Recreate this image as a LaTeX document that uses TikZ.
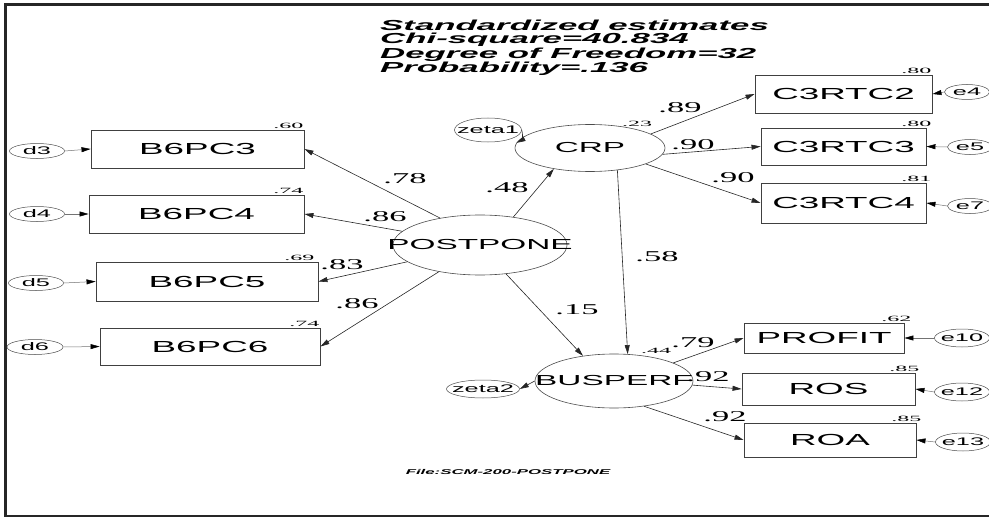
\documentclass[tikz,border=0pt]{standalone}
\usepackage{fontspec}
\setmainfont{Liberation Sans}
\newfontfamily\boxfont[FakeStretch=2.3]{Liberation Sans}
\newfontfamily\coeffont[FakeStretch=2.3]{Liberation Serif}
\newfontfamily\rsqfont[FakeStretch=3]{Liberation Serif}
\newfontfamily\headfont[FakeStretch=2.4]{Liberation Sans}
\usetikzlibrary{arrows.meta}
\usetikzlibrary{shapes.geometric}
\newcommand{\nowidth}[1]{\makebox[0pt]{#1}}

\begin{document}
\begin{tikzpicture}[x=1pt,y=-1pt,
    >={Triangle[length=9pt,width=5pt]},
    obs/.style={draw=black!75, line width=0.9pt, inner sep=0pt, font=\boxfont\fontsize{16}{18}\selectfont},
    lat/.style={ellipse, draw=black!70, line width=0.6pt, inner sep=0pt, font=\boxfont\fontsize{14.5}{16}\selectfont},
    err/.style={ellipse, draw=black!70, line width=0.5pt, inner sep=0pt, font=\boxfont\fontsize{11}{12}\selectfont},
    link/.style={->, black!85, line width=0.6pt},
    errlink/.style={-{Triangle[length=9pt,width=5pt,color=black]}, black!55, line width=0.5pt},
    coef/.style={font=\coeffont\fontsize{15}{16}\selectfont, inner sep=0pt},
    rsq/.style={font=\rsqfont\fontsize{8}{9}\selectfont, inner sep=1pt, anchor=south east},
  ]
		\useasboundingbox (0,0) rectangle (989,519);
		\draw[line width=2.5pt, black!85] (1000,4.5) -- (5.5,4.5) -- (5.5,516) -- (1000,516);

		\node[anchor=north west, align=left, inner sep=0pt, font=\headfont\bfseries\itshape\fontsize{14.5}{12.8}\selectfont] (head) at (380,20)
			{Standardized estimates\\Chi-square=40.834\\Degree of Freedom=32\\Probability=.136};
		\node[font=\headfont\bfseries\itshape\fontsize{7}{8}\selectfont] (file) at (508,472) {File:SCM-200-POSTPONE};

		\node[lat, minimum width=174, minimum height=60] (POSTPONE) at (480,245) {\nowidth{POSTPONE}};
		\node[lat, minimum width=150, minimum height=47] (CRP) at (590,148) {\nowidth{CRP}};
		\node[lat, minimum width=158, minimum height=54] (BUSPERF) at (614,381) {\nowidth{BUSPERF}};

		\node[obs, minimum width=213, minimum height=38] (B6PC3) at (197.5,149) {B6PC3};
		\node[obs, minimum width=215, minimum height=38] (B6PC4) at (196.5,214) {B6PC4};
		\node[obs, minimum width=222, minimum height=39] (B6PC5) at (207,281.5) {B6PC5};
		\node[obs, minimum width=220, minimum height=37] (B6PC6) at (210,346.5) {B6PC6};
		\node[obs, minimum width=177, minimum height=38] (C3RTC2) at (843.5,94) {C3RTC2};
		\node[obs, minimum width=165, minimum height=37] (C3RTC3) at (843.5,146.5) {C3RTC3};
		\node[obs, minimum width=165, minimum height=40] (C3RTC4) at (843.5,203) {C3RTC4};
		\node[obs, minimum width=160, minimum height=30] (PROFIT) at (824,338) {PROFIT};
		\node[obs, minimum width=173, minimum height=32] (ROS) at (828.5,389) {ROS};
		\node[obs, minimum width=172, minimum height=34] (ROA) at (830,440) {ROA};

		\node[err, minimum width=55, minimum height=15] (d3) at (37,151) {\nowidth{d3}};
		\node[err, minimum width=55, minimum height=15] (d4) at (37,214) {\nowidth{d4}};
		\node[err, minimum width=55, minimum height=15] (d5) at (36,283) {\nowidth{d5}};
		\node[err, minimum width=56, minimum height=15] (d6) at (35,347) {\nowidth{d6}};
		\node[err, minimum width=67, minimum height=24] (zeta1) at (488,130) {\nowidth{zeta1}};
		\node[err, minimum width=73, minimum height=18] (zeta2) at (483,389) {\nowidth{zeta2}};
		\node[err, minimum width=45, minimum height=15] (e4) at (967,92) {\nowidth{e4}};
		\node[err, minimum width=45, minimum height=15] (e5) at (970,147) {\nowidth{e5}};
		\node[err, minimum width=45, minimum height=15] (e7) at (970,206) {\nowidth{e7}};
		\node[err, minimum width=55, minimum height=18] (e10) at (962,338) {\nowidth{e10}};
		\node[err, minimum width=55, minimum height=18] (e12) at (962,392) {\nowidth{e12}};
		\node[err, minimum width=55, minimum height=18] (e13) at (963,442) {\nowidth{e13}};

		\draw[errlink] (d3.east) -- (B6PC3.west);
		\draw[errlink] (d4.east) -- (B6PC4.west);
		\draw[errlink] (d5.east) -- (B6PC5.west);
		\draw[errlink] (d6.east) -- (B6PC6.west);
		\draw[errlink] (e4.west) -- (C3RTC2.east);
		\draw[errlink] (e5.west) -- (C3RTC3.east);
		\draw[errlink] (e7.west) -- (C3RTC4.east);
		\draw[errlink] (e10.west) -- (PROFIT.east);
		\draw[errlink] (e12.west) -- (ROS.east);
		\draw[errlink] (e13.west) -- (ROA.east);
		\draw[link] (zeta1.east) to[bend left=40] (CRP.176);
		\draw[link] (BUSPERF.west) -- (zeta2.east);

		\draw[link] (POSTPONE.146) -- (B6PC3.east);
		\draw[link] (POSTPONE.170) -- (B6PC4.east);
		\draw[link] (POSTPONE.193) -- (B6PC5.east);
		\draw[link] (POSTPONE.213) -- (B6PC6.east);
		\draw[link] (POSTPONE.40) -- (CRP.210);
		\draw[link] (POSTPONE.-48) -- (BUSPERF.141);
		\draw[link] (CRP.-39) -- (BUSPERF.63);
		\draw[link] (CRP.13) -- (C3RTC2.west);
		\draw[link] (CRP.-5) -- (C3RTC3.west);
		\draw[link] (CRP.-16) -- (C3RTC4.west);
		\draw[link] (BUSPERF.17) -- (PROFIT.west);
		\draw[link] (BUSPERF.-3) -- (ROS.west);
		\draw[link] (BUSPERF.-40) -- (ROA.west);

		\node[coef] (p78) at (405,179) {.78};
		\node[coef] (p86a) at (385,217) {.86};
		\node[coef] (p83) at (342,264.5) {.83};
		\node[coef] (p86b) at (357,303.5) {.86};
		\node[coef] (p48) at (507,188) {.48};
		\node[coef] (p15) at (577,310) {.15};
		\node[coef] (p58) at (657,257) {.58};
		\node[coef] (p89) at (680,108) {.89};
		\node[coef] (p90a) at (693,145) {.90};
		\node[coef] (p90b) at (733,178) {.90};
		\node[coef] (p79) at (693,343) {.79};
		\node[coef] (p92a) at (708,377) {.92};
		\node[coef] (p92b) at (725,417) {.92};

		\node[rsq] (r60) at (B6PC3.north east) {.60};
		\node[rsq] (r74a) at (B6PC4.north east) {.74};
		\node[rsq, xshift=-3] (r69) at (B6PC5.north east) {.69};
		\node[rsq] (r74b) at (B6PC6.north east) {.74};
		\node[rsq] (r80a) at (C3RTC2.north east) {.80};
		\node[rsq, xshift=6] (r80b) at (C3RTC3.north east) {.80};
		\node[rsq, xshift=6] (r81) at (C3RTC4.north east) {.81};
		\node[rsq, xshift=8] (r62) at (PROFIT.north east) {.62};
		\node[rsq, xshift=5] (r85a) at (ROS.north east) {.85};
		\node[rsq, xshift=6] (r85b) at (ROA.north east) {.85};
		\node[rsq, anchor=center] (r23) at (637,124) {.23};
		\node[rsq, anchor=center, fill=white, inner sep=0.5pt] (r44) at (656,351) {.44};
	\end{tikzpicture}
\end{document}
